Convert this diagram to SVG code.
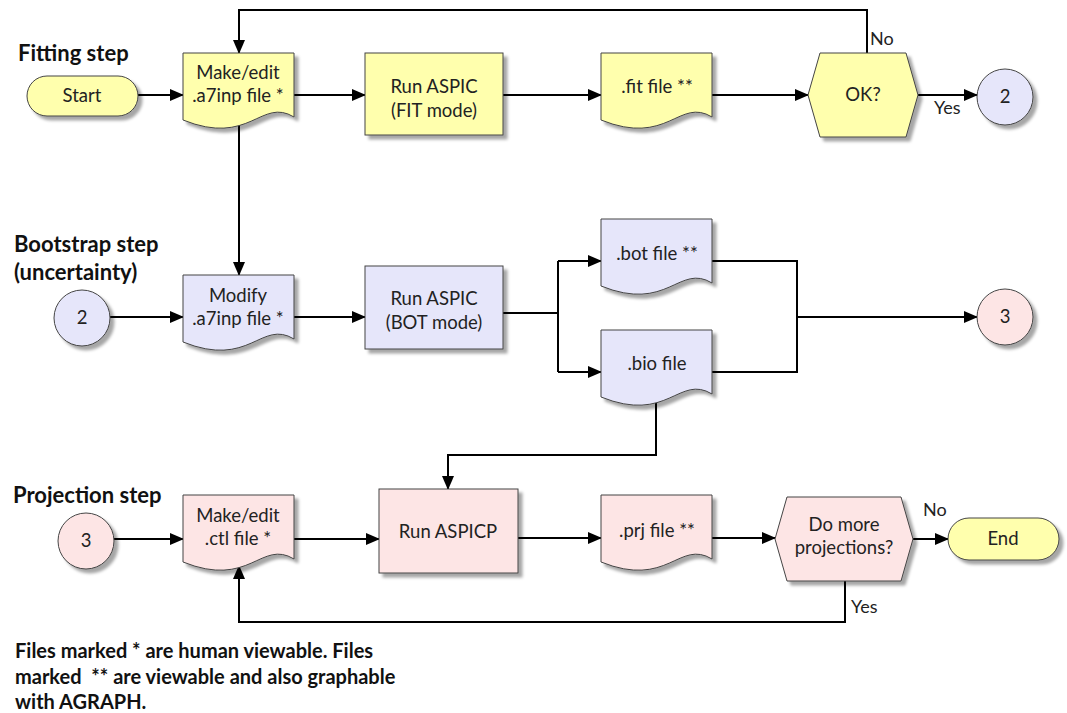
<svg xmlns="http://www.w3.org/2000/svg" width="1067" height="713" viewBox="0 0 1067 713">
<defs>
<filter id="sh" x="-10%" y="-10%" width="130%" height="140%"><feDropShadow dx="4" dy="4" stdDeviation="1.5" flood-color="#000" flood-opacity="0.35"/></filter>
<marker id="ar" markerUnits="userSpaceOnUse" markerWidth="14" markerHeight="12" refX="13" refY="6" orient="auto"><path d="M0,0 L14,6 L0,12 Z" fill="#000"/></marker>
<style>
.y{fill:#FFFFAD}.b{fill:#E6E6FA}.p{fill:#FDE5E5}
.s{stroke:#444;stroke-width:1;filter:url(#sh)}
.t{font-family:Lato,"Open Sans",sans-serif;font-size:18.5px;fill:#222;text-anchor:middle}
.h{font-family:Lato,"Open Sans",sans-serif;font-size:22px;font-weight:bold;fill:#111}
.f{font-family:Lato,"Open Sans",sans-serif;font-size:20px;font-weight:bold;fill:#111;white-space:pre}
.l{font-family:Lato,"Open Sans",sans-serif;font-size:18px;fill:#222}
.c{fill:none;stroke:#000;stroke-width:2}
</style>
</defs>
<rect width="1067" height="713" fill="#fff"/>
<g id="labels">
<text class="h" x="18" y="61">Fitting step</text>
<text class="h" x="14" y="252">Bootstrap step</text>
<text class="h" x="14" y="280">(uncertainty)</text>
<text class="h" x="13" y="503">Projection step</text>
<text class="f" x="15" y="658">Files marked * are human viewable. Files</text>
<text class="f" x="15" y="684" xml:space="preserve">marked  ** are viewable and also graphable</text>
<text class="f" x="15" y="709">with AGRAPH.</text>
</g>
<g id="connectors">
<path class="c" d="M138,95 H183" marker-end="url(#ar)"/>
<path class="c" d="M294,95 H365" marker-end="url(#ar)"/>
<path class="c" d="M503,95 H601" marker-end="url(#ar)"/>
<path class="c" d="M712,95 H808" marker-end="url(#ar)"/>
<path class="c" d="M918,95 H977" marker-end="url(#ar)"/>
<path class="c" d="M867,53 V10 H239 V53" marker-end="url(#ar)"/>
<path class="c" d="M239,124 V275" marker-end="url(#ar)"/>
<path class="c" d="M110,317 H183" marker-end="url(#ar)"/>
<path class="c" d="M294,317 H365" marker-end="url(#ar)"/>
<path class="c" d="M503,313 H558"/>
<path class="c" d="M558,261 V372"/>
<path class="c" d="M558,261 H601" marker-end="url(#ar)"/>
<path class="c" d="M558,372 H601" marker-end="url(#ar)"/>
<path class="c" d="M712,261 H797 V372 H712"/>
<path class="c" d="M797,317 H977" marker-end="url(#ar)"/>
<path class="c" d="M656,397 V455 H448 V489" marker-end="url(#ar)"/>
<path class="c" d="M114,539 H183" marker-end="url(#ar)"/>
<path class="c" d="M294,539 H379" marker-end="url(#ar)"/>
<path class="c" d="M518,538 H601" marker-end="url(#ar)"/>
<path class="c" d="M712,538 H775" marker-end="url(#ar)"/>
<path class="c" d="M913,539 H948" marker-end="url(#ar)"/>
<path class="c" d="M845,581 V622 H239 V566" marker-end="url(#ar)"/>
<text class="l" x="870" y="45">No</text>
<text class="l" x="934" y="114">Yes</text>
<text class="l" x="923" y="516">No</text>
<text class="l" x="851" y="613">Yes</text>
</g>
<g id="start">
<rect class="y s" x="27" y="76" width="111" height="40" rx="20"/>
<text class="t" x="82" y="102">Start</text>
</g>
<g id="edit-a7inp">
<path class="y s" d="M183,53 H294 V117 C261,97 250,147 183,120 Z"/>
<text class="t" x="238" y="79">Make/edit</text>
<text class="t" x="238" y="102">.a7inp file *</text>
</g>
<g id="run-fit">
<rect class="y s" x="365" y="53" width="138" height="82"/>
<text class="t" x="434" y="93">Run ASPIC</text>
<text class="t" x="434" y="117">(FIT mode)</text>
</g>
<g id="fit-file">
<path class="y s" d="M601,53 H712 V117 C679,97 668,147 601,120 Z"/>
<text class="t" x="657" y="93">.fit file **</text>
</g>
<g id="ok">
<path class="y s" d="M808,95 L820,53 H906 L918,95 L906,137 H820 Z"/>
<text class="t" x="863" y="101">OK?</text>
</g>
<g id="conn2-out">
<circle class="b s" cx="1005" cy="97" r="28"/>
<text class="t" x="1005" y="103">2</text>
</g>
<g id="conn2-in">
<circle class="b s" cx="82" cy="318" r="28"/>
<text class="t" x="82" y="324">2</text>
</g>
<g id="modify-a7inp">
<path class="b s" d="M183,275 H294 V339 C261,319 250,369 183,342 Z"/>
<text class="t" x="238" y="302">Modify</text>
<text class="t" x="238" y="325">.a7inp file *</text>
</g>
<g id="run-bot">
<rect class="b s" x="365" y="266" width="138" height="83"/>
<text class="t" x="434" y="305">Run ASPIC</text>
<text class="t" x="434" y="329">(BOT mode)</text>
</g>
<g id="bot-file">
<path class="b s" d="M601,219 H712 V283 C679,263 668,313 601,286 Z"/>
<text class="t" x="657" y="260">.bot file **</text>
</g>
<g id="bio-file">
<path class="b s" d="M601,330 H712 V394 C679,374 668,424 601,397 Z"/>
<text class="t" x="657" y="370">.bio file</text>
</g>
<g id="conn3-out">
<circle class="p s" cx="1005" cy="317" r="28"/>
<text class="t" x="1005" y="323">3</text>
</g>
<g id="conn3-in">
<circle class="p s" cx="86" cy="541" r="28"/>
<text class="t" x="86" y="547">3</text>
</g>
<g id="edit-ctl">
<path class="p s" d="M183,495 H294 V559 C261,539 250,589 183,562 Z"/>
<text class="t" x="238" y="522">Make/edit</text>
<text class="t" x="238" y="545">.ctl file *</text>
</g>
<g id="run-aspicp">
<rect class="p s" x="379" y="489" width="139" height="84"/>
<text class="t" x="448" y="538">Run ASPICP</text>
</g>
<g id="prj-file">
<path class="p s" d="M601,495 H712 V559 C679,539 668,589 601,562 Z"/>
<text class="t" x="657" y="537">.prj file **</text>
</g>
<g id="more">
<path class="p s" d="M775,539 L787,497 H901 L913,539 L901,581 H787 Z"/>
<text class="t" x="844" y="531">Do more</text>
<text class="t" x="844" y="554">projections?</text>
</g>
<g id="end">
<rect class="y s" x="948" y="518" width="111" height="42" rx="21"/>
<text class="t" x="1003" y="545">End</text>
</g>
</svg>
